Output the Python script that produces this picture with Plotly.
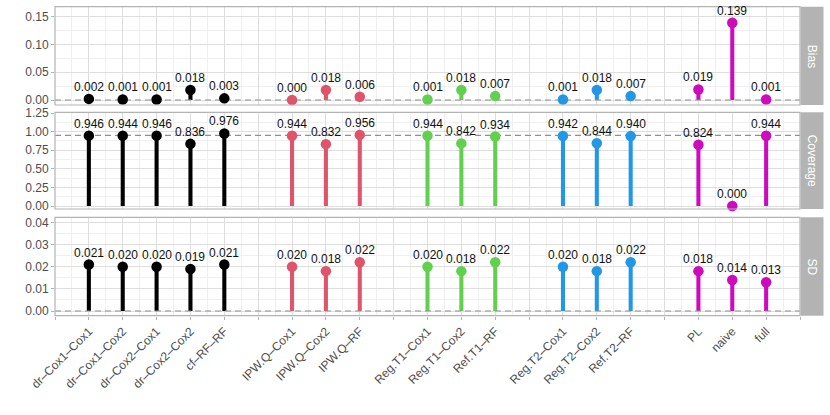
import plotly.graph_objects as go

# ---------------- data ----------------
groups = ["dr", "IPW", "RegT1", "RegT2", "other"]
group_colors = ["#000000", "#DF536B", "#61D04F", "#2297E6", "#CD0BBC"]
group_labels = [
    ["dr–Cox1–Cox1", "dr–Cox1–Cox2", "dr–Cox2–Cox1", "dr–Cox2–Cox2", "cf–RF–RF"],
    ["IPW.Q–Cox1", "IPW.Q–Cox2", "IPW.Q–RF"],
    ["Reg.T1–Cox1", "Reg.T1–Cox2", "Ref.T1–RF"],
    ["Reg.T2–Cox1", "Reg.T2–Cox2", "Ref.T2–RF"],
    ["PL", "naive", "full"],
]
bias = [
    [0.002, 0.001, 0.001, 0.018, 0.003],
    [0.000, 0.018, 0.006],
    [0.001, 0.018, 0.007],
    [0.001, 0.018, 0.007],
    [0.019, 0.139, 0.001],
]
coverage = [
    [0.946, 0.944, 0.946, 0.836, 0.976],
    [0.944, 0.832, 0.956],
    [0.944, 0.842, 0.934],
    [0.942, 0.844, 0.940],
    [0.824, 0.000, 0.944],
]
sd = [
    [0.021, 0.020, 0.020, 0.019, 0.021],
    [0.020, 0.018, 0.022],
    [0.020, 0.018, 0.022],
    [0.020, 0.018, 0.022],
    [0.018, 0.014, 0.013],
]
panel_names = ["Bias", "Coverage", "SD"]
ref_lines = [0.0, 0.95, 0.0]
y_ticks = [[0.0, 0.05, 0.10, 0.15],
           [0.0, 0.25, 0.50, 0.75, 1.00, 1.25],
           [0.0, 0.01, 0.02, 0.03, 0.04]]
y_ranges = [[-0.009, 0.168], [-0.04, 1.26], [-0.0021, 0.0423]]
y_minor = [0.025, 0.125, 0.005]

# ------------- positions (discrete scale with one empty slot between groups) -------------
positions = []
p = 0
for gi, labs in enumerate(group_labels):
    if gi > 0:
        p += 1  # empty slot
    pos = []
    for _ in labs:
        p += 1
        pos.append(p)
    positions.append(pos)
x_max = p + 1
all_pos = [q for pos in positions for q in pos]
all_labs = [l for labs in group_labels for l in labs]
lab_map = dict(zip(all_pos, all_labs))
tick_vals = list(range(0, x_max + 1))
tick_text = [lab_map.get(v, "") for v in tick_vals]

W, H = 830, 415
x_dom = [55 / W, 800 / W]
y_doms = [[1 - 105 / H, 1 - 6.7 / H], [1 - 209 / H, 1 - 112.3 / H], [1 - 315.7 / H, 1 - 217.3 / H]]

FONT = "Liberation Sans, Arial, sans-serif"
fig = go.Figure()
annotations = []

datasets = [bias, coverage, sd]
for pi, data in enumerate(datasets):
    xa = "x" if pi == 0 else f"x{pi+1}"
    ya = "y" if pi == 0 else f"y{pi+1}"
    # dashed reference line spanning the axis range
    fig.add_trace(go.Scatter(
        x=[0, x_max], y=[ref_lines[pi], ref_lines[pi]], mode="lines",
        line=dict(color="#8F8F8F", width=1.1, dash="6px,4px"),
        xaxis=xa, yaxis=ya, showlegend=False, hoverinfo="skip"))
    for gi in range(len(groups)):
        fig.add_trace(go.Bar(
            x=positions[gi], y=data[gi], width=0.12,
            marker=dict(color=group_colors[gi], line=dict(width=0)),
            xaxis=xa, yaxis=ya, showlegend=False, hoverinfo="skip"))
        fig.add_trace(go.Scatter(
            x=positions[gi], y=data[gi], mode="markers",
            marker=dict(color=group_colors[gi], size=10.5),
            cliponaxis=False,
            xaxis=xa, yaxis=ya, showlegend=False))
        for xv, v in zip(positions[gi], data[gi]):
            annotations.append(dict(
                x=xv, y=v, xref=xa, yref=ya, text=f"{v:.3f}", showarrow=False,
                xanchor="center", yanchor="middle", yshift=12,
                font=dict(family=FONT, size=12, color="#111111")))

shapes = []
layout = dict(
    width=W, height=H, margin=dict(l=0, r=0, t=0, b=0, autoexpand=False),
    paper_bgcolor="white", plot_bgcolor="white", barmode="overlay",
    font=dict(family=FONT, size=12, color="#4D4D4D"),
)
for pi in range(3):
    xkey = "xaxis" if pi == 0 else f"xaxis{pi+1}"
    ykey = "yaxis" if pi == 0 else f"yaxis{pi+1}"
    xa = "x" if pi == 0 else f"x{pi+1}"
    ya = "y" if pi == 0 else f"y{pi+1}"
    layout[xkey] = dict(
        domain=x_dom, range=[0, x_max], anchor=ya, automargin=False,
        tickmode="array", tickvals=tick_vals, ticktext=tick_text,
        showticklabels=(pi == 2), tickangle=-45,
        tickfont=dict(family=FONT, size=12, color="#4D4D4D"),
        ticks="outside" if pi == 2 else "", ticklen=3, tickcolor="#B3B3B3",
        showgrid=True, gridcolor="#DEDEDE", gridwidth=1, zeroline=False,
        showline=False,
        minor=dict(tickmode="linear", tick0=0.5, dtick=1, showgrid=True,
                   gridcolor="#F0F0F0", gridwidth=0.6, ticks=""),
    )
    layout[ykey] = dict(
        domain=y_doms[pi], range=y_ranges[pi], anchor=xa, automargin=False,
        tickmode="array", tickvals=y_ticks[pi],
        ticktext=[f"{v:.2f}" for v in y_ticks[pi]],
        tickfont=dict(family=FONT, size=12, color="#4D4D4D"),
        ticks="outside", ticklen=3, tickcolor="#B3B3B3",
        showgrid=True, gridcolor="#DEDEDE", gridwidth=1, zeroline=False,
        showline=False,
        minor=dict(tickmode="linear", tick0=0, dtick=y_minor[pi], showgrid=True,
                   gridcolor="#F0F0F0", gridwidth=0.6, ticks=""),
    )
    x0p, x1p = x_dom
    y0p, y1p = y_doms[pi]
    # panel border
    shapes.append(dict(
        type="rect", xref="paper", yref="paper", x0=x0p, x1=x1p, y0=y0p, y1=y1p,
        line=dict(color="#B3B3B3", width=1.2), fillcolor="rgba(0,0,0,0)", layer="above"))
    # strip
    shapes.append(dict(
        type="rect", xref="paper", yref="paper", x0=800.6 / W, x1=823.5 / W,
        y0=y0p, y1=y1p, line=dict(width=0), fillcolor="#B3B3B3"))
    annotations.append(dict(
        xref="paper", yref="paper", x=812 / W, y=(y0p + y1p) / 2, text=panel_names[pi],
        textangle=90, showarrow=False, xanchor="center", yanchor="middle",
        font=dict(family=FONT, size=12, color="white")))

layout["shapes"] = shapes
layout["annotations"] = annotations
fig.update_layout(**layout)
fig.write_html("out.html", config={"displayModeBar": False},
               post_script="document.body.style.margin='0';")
